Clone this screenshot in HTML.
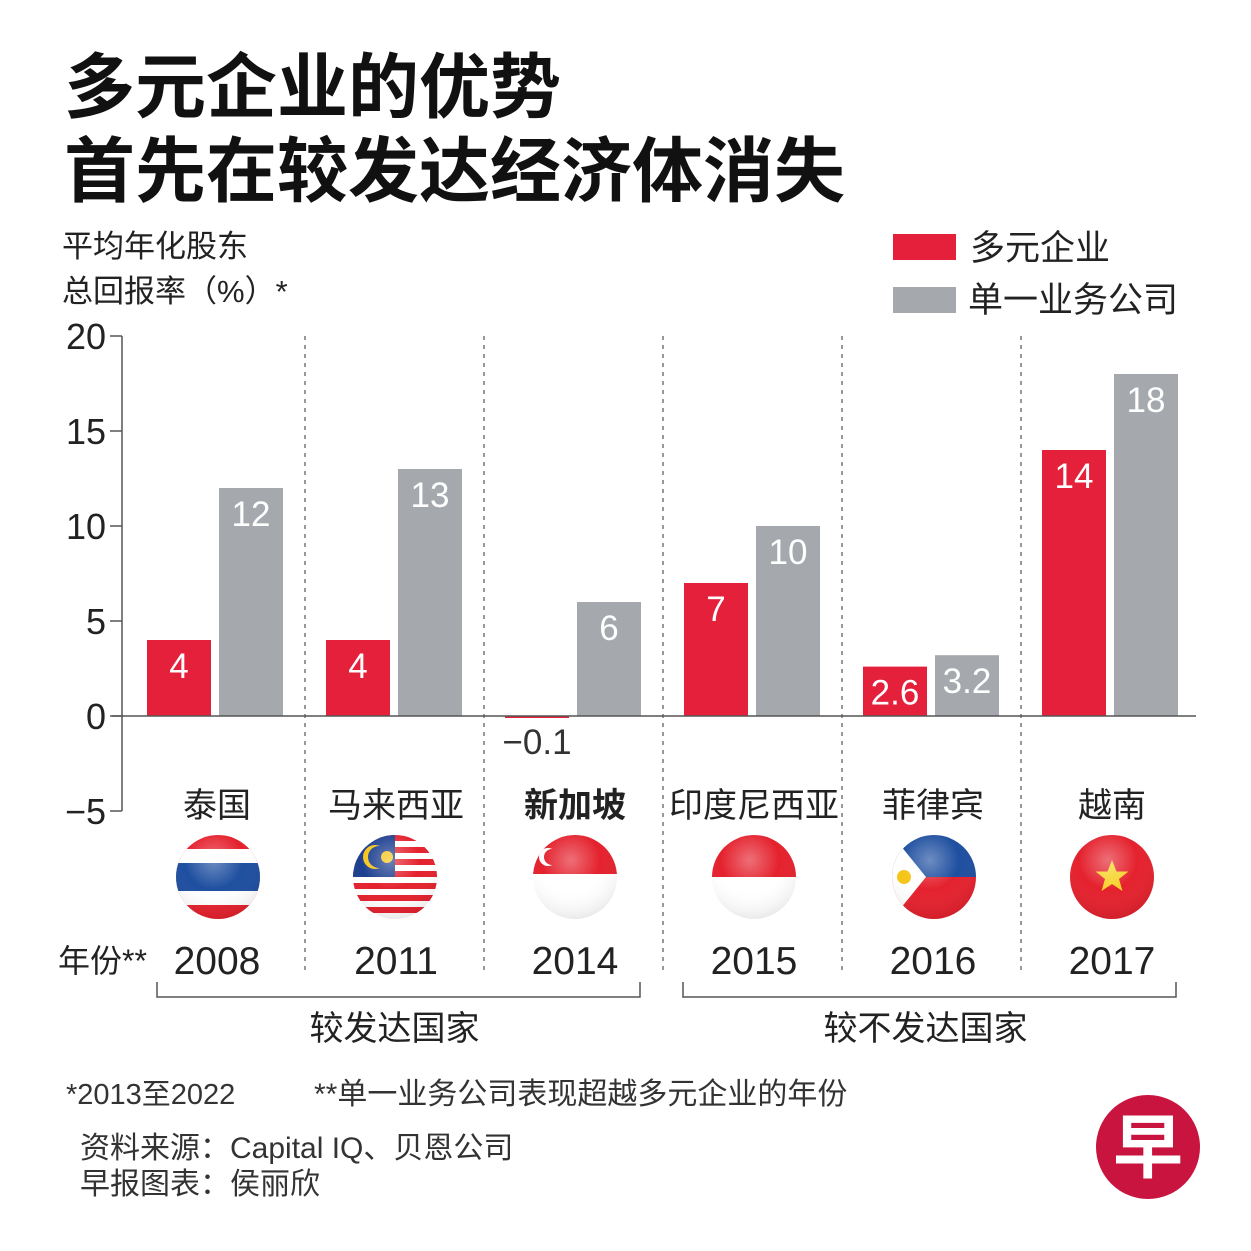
<!DOCTYPE html>
<html><head><meta charset="utf-8"><style>
body{margin:0;background:#fff;}
svg{display:block;font-family:"Liberation Sans","Noto Sans CJK SC",sans-serif;}
</style></head><body>
<svg id="chart" width="1251" height="1251" viewBox="0 0 1251 1251">
<defs>
<clipPath id="c0"><circle cx="0" cy="0" r="42"/></clipPath>
<radialGradient id="gloss" cx="0.45" cy="0.3" r="0.7"><stop offset="0" stop-color="#fff" stop-opacity="0.35"/><stop offset="0.5" stop-color="#fff" stop-opacity="0"/><stop offset="1" stop-color="#000" stop-opacity="0.08"/></radialGradient>
</defs>
<g font-weight="bold" font-size="71" fill="#111">
<text x="64" y="112">多元企业的优势</text>
<text x="64" y="196">首先在较发达经济体消失</text>
</g>
<g font-size="31" fill="#222">
<text x="62" y="257">平均年化股东</text>
<text x="62" y="302">总回报率（%）*</text>
</g>
<g font-size="35" fill="#222">
<rect x="893" y="234" width="63" height="26" fill="#e4203a"/>
<text x="970" y="260">多元企业</text>
<rect x="893" y="287" width="63" height="26" fill="#a5a9ae"/>
<text x="968" y="312">单一业务公司</text>
</g>
<g id="plot"></g>
<g font-size="30" fill="#333">
<text x="66" y="1104" font-size="29">*2013至2022</text>
<text x="314" y="1104">**单一业务公司表现超越多元企业的年份</text>
<text x="80" y="1158">资料来源：Capital IQ、贝恩公司</text>
<text x="80" y="1194">早报图表：侯丽欣</text>
</g>
<g>
<circle cx="1148" cy="1147" r="52" fill="#c8143f"/>
<text x="1148" y="1172" text-anchor="middle" font-size="70" font-weight="bold" fill="#fff">早</text>
</g>
</svg>
<script>
const categories=["泰国","马来西亚","新加坡","印度尼西亚","菲律宾","越南"];
const years=["2008","2011","2014","2015","2016","2017"];
const multiValues=[4,4,-0.1,7,2.6,14];
const singleValues=[12,13,6,10,3.2,18];
const multiLabels=["4","4","−0.1","7","2.6","14"];
const singleLabels=["12","13","6","10","3.2","18"];
const yTicks=[20,15,10,5,0,-5];
const yTickLabels=["20","15","10","5","0","−5"];

const NS="http://www.w3.org/2000/svg";
const plot=document.getElementById('plot');
function y(v){return 716-v*19;}
function gx(i){return 147+i*179;}
function mk(tag,attrs,parent,txt){const e=document.createElementNS(NS,tag);for(const k in attrs)e.setAttribute(k,attrs[k]);if(txt!==undefined)e.textContent=txt;(parent||plot).appendChild(e);return e;}

let ax=mk('line',{x1:122,y1:336,x2:122,y2:811,stroke:'#555','stroke-width':1.5});


yTicks.forEach((t,i)=>{
  let tk=mk('line',{x1:110,y1:y(t),x2:122,y2:y(t),stroke:'#555','stroke-width':1.5});
  
  
  let tl=mk('text',{x:106,y:y(t)+13,'text-anchor':'end','font-size':36,fill:'#222'},plot,yTickLabels[i]);
  
  
});
for(let i=1;i<6;i++){
  let d=mk('line',{x1:gx(i)-21,y1:336,x2:gx(i)-21,y2:972,stroke:'#555','stroke-width':1.2,'stroke-dasharray':'4 5'});
  
  
}
categories.forEach((c,i)=>{
  const x0=gx(i), cx=x0+70;
  const m=multiValues[i], s=singleValues[i];
  let r=mk('rect',{x:x0,y:Math.min(y(m),y(0)),width:64,height:Math.max(Math.abs(y(m)-y(0)),2),fill:'#e4203a'});
  
  
  let g=mk('rect',{x:x0+72,y:Math.min(y(s),y(0)),width:64,height:Math.abs(y(s)-y(0)),fill:'#a5a9ae'});
  
  
  let ml;
  if(m>=1){ml=mk('text',{x:x0+32,y:y(m)+38,'text-anchor':'middle','font-size':35,fill:'#fff'},plot,multiLabels[i]);}
  else{ml=mk('text',{x:x0+32,y:y(0)+38,'text-anchor':'middle','font-size':35,fill:'#333'},plot,multiLabels[i]);}
  
  
  let sl=mk('text',{x:x0+104,y:y(s)+38,'text-anchor':'middle','font-size':35,fill:'#fff'},plot,singleLabels[i]);
  
  
  let cl=mk('text',{x:cx,y:817,'text-anchor':'middle','font-size':34,fill:'#222','font-weight':c==='新加坡'?'bold':'normal'},plot,c);
  
  
  let yl=mk('text',{x:cx,y:974,'text-anchor':'middle','font-size':39,fill:'#222'},plot,years[i]);
  
  
});
let base=mk('line',{x1:112,y1:716,x2:1196,y2:716,stroke:'#555','stroke-width':1.5});


let yrt=mk('text',{x:58,y:972,'font-size':32,fill:'#222'},plot,'年份**');



const fcx=[218,395,575,754,934,1112];
function flag(i,fn){const g=mk('g',{transform:`translate(${fcx[i]},877)`});const inner=mk('g',{'clip-path':'url(#c0)'},g);fn(inner);mk('circle',{r:42,fill:'url(#gloss)'},g);return g;}
const R='#e4222e',B='#1f4fa0',W='#fff';
let f;
f=flag(0,g=>{mk('rect',{x:-42,y:-42,width:84,height:84,fill:R},g);mk('rect',{x:-42,y:-28,width:84,height:56,fill:W},g);mk('rect',{x:-42,y:-14,width:84,height:28,fill:B},g);});

f=flag(1,g=>{for(let k=0;k<14;k++)mk('rect',{x:-42,y:-42+k*6,width:84,height:6,fill:k%2?W:R},g);mk('rect',{x:-42,y:-42,width:42,height:42,fill:'#1d3f8f'},g);mk('circle',{cx:-20,cy:-20,r:12,fill:'#f5c518'},g);mk('circle',{cx:-16,cy:-20,r:11,fill:'#1d3f8f'},g);mk('circle',{cx:-8,cy:-20,r:6,fill:'#f5c518'},g);});

f=flag(2,g=>{mk('rect',{x:-42,y:-42,width:84,height:84,fill:W},g);mk('rect',{x:-42,y:-42,width:84,height:39,fill:R},g);mk('circle',{cx:-27,cy:-20,r:9,fill:W},g);mk('circle',{cx:-23,cy:-20,r:8,fill:R},g);});

f=flag(3,g=>{mk('rect',{x:-42,y:-42,width:84,height:84,fill:W},g);mk('rect',{x:-42,y:-42,width:84,height:42,fill:R},g);});

f=flag(4,g=>{mk('rect',{x:-42,y:-42,width:84,height:42,fill:B},g);mk('rect',{x:-42,y:0,width:84,height:42,fill:R},g);mk('polygon',{points:'-42,-42 -8,0 -42,42',fill:W},g);mk('circle',{cx:-30,cy:0,r:7,fill:'#f5c518'},g);});

f=flag(5,g=>{mk('rect',{x:-42,y:-42,width:84,height:84,fill:R},g);mk('polygon',{points:'0,-17 4.5,-5.5 16.5,-5.5 7,2 10.5,14 0,7 -10.5,14 -7,2 -16.5,-5.5 -4.5,-5.5',fill:'#f6d32a'},g);});


[[157,640,'较发达国家'],[683,1176,'较不发达国家']].forEach(b=>{
  let p=mk('path',{d:`M${b[0]},982 V997 H${b[1]} V982`,fill:'none',stroke:'#555','stroke-width':1.5});
  
  
  let t=mk('text',{x:(b[0]+b[1])/2-4,y:1040,'text-anchor':'middle','font-size':34,fill:'#222'},plot,b[2]);
  
  
});
</script>
</body></html>
